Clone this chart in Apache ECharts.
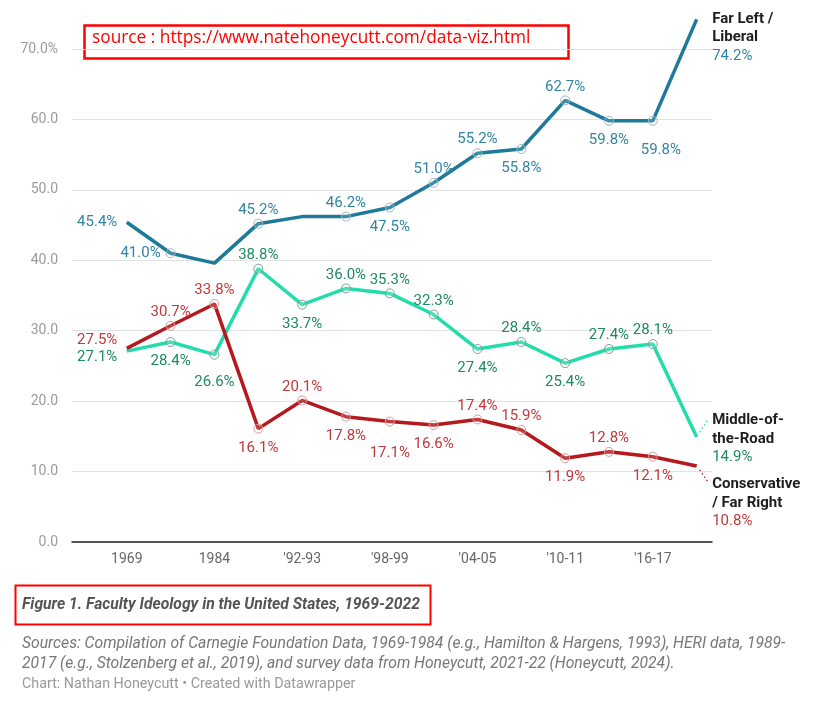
<!DOCTYPE html>
<html>
<head>
<meta charset="utf-8">
<script src="https://cdn.jsdelivr.net/npm/echarts@6/dist/echarts.min.js"></script>
<style>
  html, body { margin: 0; padding: 0; background: #fff; }
  #chart { width: 828px; height: 705px; }
</style>
</head>
<body>
<div id="chart"></div>
<script>
const categories = ['1969', '1975', '1984', "'89-90", "'92-93", "'95-96", "'98-99",
  "'01-02", "'04-05", "'07-08", "'10-11", "'13-14", "'16-17", "'21-22"];
const labelledTicks = [0, 2, 4, 6, 8, 10, 12];
const yTicks = [0, 10, 20, 30, 40, 50, 60, 70];

const liberal = [45.4, 41.0, 39.6, 45.2, 46.2, 46.2, 47.5, 51.0, 55.2, 55.8, 62.7, 59.8, 59.8, 74.2];
const middle = [27.1, 28.4, 26.6, 38.8, 33.7, 36.0, 35.3, 32.3, 27.4, 28.4, 25.4, 27.4, 28.1, 14.9];
const conservative = [27.5, 30.7, 33.8, 16.1, 20.1, 17.8, 17.1, 16.6, 17.4, 15.9, 11.9, 12.8, 12.1, 10.8];

const seriesNames = [['Far Left /', 'Liberal'], ['Middle-of-', 'the-Road'], ['Conservative', '/ Far Right']];

// where each value label sits (null = no label / no marker)
const liberalPos = ['left', 'left', null, 'top', null, 'top', 'bottom', 'top', 'top', 'bottom', 'top', 'bottom', 'bottom', 'end'];
const middlePos = ['left', 'bottom', 'bottom', 'top', 'bottom', 'top', 'top', 'top', 'bottom', 'top', 'bottom', 'top', 'top', 'end'];
const conservativePos = ['left', 'top', 'top', 'bottom', 'top', 'bottom', 'bottom', 'bottom', 'top', 'top', 'bottom', 'top', 'bottom', 'end'];

// small label nudges (px) for collisions, like the original
const liberalNudge = { 12: [8, 10] };
const middleNudge = { 0: [0, 6], 2: [0, 8] };
const conservativeNudge = { 0: [0, -8], 6: [0, 12] };

const FONT = 'Roboto';
const HIDDEN = { color: 'transparent', borderColor: 'transparent', borderWidth: 0 };
const END_LINE_H = 18.5;

const chart = echarts.init(document.getElementById('chart'));

function buildData(values, pos, opt) {
  return values.map((v, i) => {
    const p = pos[i];
    const item = { value: [i, v] };
    if (p === null || i === 0 || p === 'end') item.itemStyle = HIDDEN;
    if (p === null) {
      item.label = { show: false };
    } else if (p === 'end') {
      item.label = {
        show: true,
        position: 'right',
        distance: 11,
        formatter: seriesNames[opt.idx].map(s => '{n|' + s + '}').join('\n') + '\n{v|' + v.toFixed(1) + '%}',
        rich: {
          n: { fontFamily: FONT, fontWeight: 'bold', fontSize: 15, color: '#1e1e1e', lineHeight: END_LINE_H },
          v: { fontFamily: FONT, fontSize: 15, color: opt.labelColor, lineHeight: END_LINE_H }
        }
      };
    } else {
      item.label = {
        show: true,
        position: p,
        distance: p === 'left' ? 5 : (p === 'top' ? 1 : 7)
      };
    }
    return item;
  });
}

function makeSeries(values, pos, opt) {
  const last = values.length - 1;
  return {
    type: 'line',
    data: buildData(values, pos, opt),
    clip: false,
    symbol: 'circle',
    symbolSize: 9,
    z: opt.z,
    lineStyle: { color: opt.lineColor, width: 3.5 },
    itemStyle: { color: 'rgba(255,255,255,0.15)', borderColor: opt.markColor, borderWidth: 1 },
    label: {
      color: opt.labelColor,
      fontFamily: FONT,
      fontSize: 15,
      formatter: p => p.value[1].toFixed(1) + '%'
    },
    labelLayout: params => {
      if (params.dataIndex === last) return { dy: opt.endDy };
      const n = opt.nudge[params.dataIndex];
      return n ? { dx: n[0], dy: n[1] } : {};
    },
    emphasis: { disabled: true }
  };
}

chart.setOption({
  animation: false,
  backgroundColor: '#fff',
  grid: { left: 72, right: 116, top: 49, bottom: 163 },
  xAxis: {
    type: 'value',
    min: -1.25,
    max: 13.35,
    splitLine: { show: false },
    axisTick: { show: false },
    axisLine: { show: true, onZero: false, lineStyle: { color: '#222', width: 1.5 } },
    axisLabel: {
      customValues: labelledTicks,
      formatter: v => categories[v],
      color: '#666',
      fontFamily: FONT,
      fontSize: 14,
      margin: 10
    }
  },
  yAxis: {
    type: 'value',
    min: yTicks[0],
    max: yTicks[yTicks.length - 1],
    interval: 10,
    axisLine: { show: false },
    axisTick: { show: false },
    splitLine: { lineStyle: { color: '#e2e2e2', width: 1 } },
    axisLabel: {
      color: '#9b9b9b',
      fontFamily: FONT,
      fontSize: 14,
      margin: 14,
      formatter: v => v === yTicks[yTicks.length - 1] ? v.toFixed(1) + '%' : v.toFixed(1)
    }
  },
  series: [
    makeSeries(conservative, conservativePos, {
      idx: 2, z: 3, lineColor: '#b5191d', labelColor: '#c0393c', markColor: '#d99a9a',
      endDy: 37, nudge: conservativeNudge
    }),
    makeSeries(middle, middlePos, {
      idx: 1, z: 2, lineColor: '#24dcab', labelColor: '#1f8a62', markColor: '#7f9e94',
      endDy: 2, nudge: middleNudge
    }),
    makeSeries(liberal, liberalPos, {
      idx: 0, z: 4, lineColor: '#1d7a98', labelColor: '#3184a4', markColor: '#9db6c2',
      endDy: 18, nudge: liberalNudge
    })
  ],
  graphic: [
    {
      type: 'rect', left: 82, top: 23,
      shape: { width: 484, height: 33 },
      style: { fill: 'none', stroke: '#ff0000', lineWidth: 2.5 }
    },
    {
      type: 'text', left: 92, top: 30,
      style: { text: 'source : https://www.natehoneycutt.com/data-viz.html', fill: '#ff0000', fontFamily: "'Open Sans'", fontSize: 17.3 }
    },
    {
      type: 'rect', left: 13, top: 583,
      shape: { width: 415, height: 39 },
      style: { fill: 'none', stroke: '#ff0000', lineWidth: 2 }
    },
    {
      type: 'text', left: 22, top: 597,
      style: { text: 'Figure 1. Faculty Ideology in the United States, 1969-2022', fill: '#555', fontFamily: FONT, fontSize: 15.7, fontWeight: 'bold', fontStyle: 'italic' }
    },
    {
      type: 'text', left: 22, top: 634,
      style: {
        text: 'Sources: Compilation of Carnegie Foundation Data, 1969-1984 (e.g., Hamilton & Hargens, 1993), HERI data, 1989-\n2017 (e.g., Stolzenberg et al., 2019), and survey data from Honeycutt, 2021-22 (Honeycutt, 2024).',
        fill: '#777', fontFamily: FONT, fontSize: 15.7, fontStyle: 'italic', lineHeight: 20
      }
    },
    {
      type: 'text', left: 22, top: 677,
      style: { text: 'Chart: Nathan Honeycutt \u2022 Created with Datawrapper', fill: '#999', fontFamily: FONT, fontSize: 14.3 }
    }
  ]
});

// dotted leaders from the last two line ends to their name labels
const lastIdx = categories.length - 1;
const pMid = chart.convertToPixel({ gridIndex: 0 }, [lastIdx, middle[lastIdx]]);
const pCon = chart.convertToPixel({ gridIndex: 0 }, [lastIdx, conservative[lastIdx]]);
chart.setOption({
  graphic: [
    {
      id: 'leadMid', type: 'polyline', silent: true,
      shape: { points: [[pMid[0] + 3, pMid[1] - 5], [pMid[0] + 11, pMid[1] - 17]] },
      style: { stroke: '#24dcab', lineWidth: 1.3, lineDash: [1.5, 2.5], fill: null }
    },
    {
      id: 'leadCon', type: 'polyline', silent: true,
      shape: { points: [[pCon[0] + 3, pCon[1] + 4], [pCon[0] + 12, pCon[1] + 17]] },
      style: { stroke: '#b5191d', lineWidth: 1.3, lineDash: [1.5, 2.5], fill: null }
    }
  ]
});
</script>
</body>
</html>
